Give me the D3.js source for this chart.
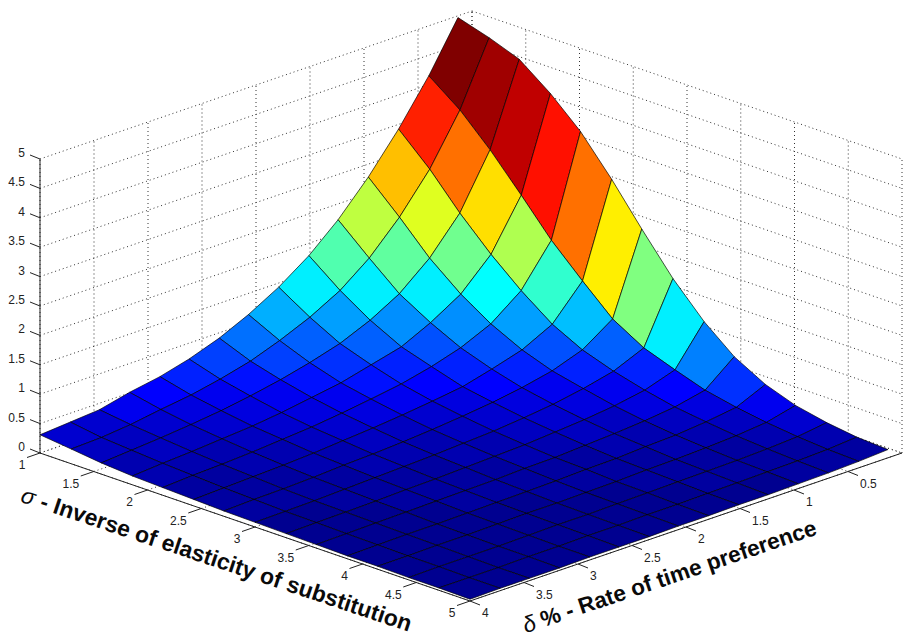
<!DOCTYPE html>
<html>
<head>
<meta charset="utf-8">
<script src="https://cdn.jsdelivr.net/npm/d3@7"></script>
<style>
html,body{margin:0;padding:0;background:#fff;}
svg{display:block;}
text{font-family:"Liberation Sans",Arial,sans-serif;}
</style>
</head>
<body>
<svg id="chart" width="910" height="638"></svg>
<script>
const sigmaValues = [1,1.29,1.57,1.86,2.14,2.43,2.71,3,3.29,3.57,3.86,4.14,4.43,4.71,5];
const deltaValues = [4,3.72,3.45,3.17,2.89,2.62,2.34,2.07,1.79,1.51,1.24,0.96,0.68,0.4,0.13];
// one row per delta value (same order as deltaValues), one column per sigma value
const surfaceZ = [
 [.31,.25,.19,.15,.13,.11,.09,.08,.07,.06,.05,.05,.04,.04,.03],
 [.35,.27,.23,.19,.16,.13,.11,.09,.08,.07,.06,.05,.05,.04,.04],
 [.39,.32,.27,.22,.18,.15,.12,.10,.09,.08,.07,.06,.05,.04,.04],
 [.51,.40,.32,.26,.21,.17,.14,.12,.10,.09,.07,.06,.05,.05,.04],
 [.60,.47,.38,.30,.25,.20,.17,.14,.12,.10,.08,.07,.06,.05,.05],
 [.73,.57,.46,.36,.29,.24,.19,.16,.13,.11,.09,.08,.07,.06,.05],
 [.91,.70,.56,.44,.35,.28,.22,.18,.15,.12,.10,.08,.07,.06,.05],
 [1.14,.88,.68,.52,.42,.33,.26,.21,.17,.14,.11,.09,.08,.07,.06],
 [1.43,1.10,.83,.65,.50,.39,.31,.24,.19,.15,.13,.10,.09,.07,.06],
 [1.79,1.38,1.05,.78,.62,.46,.37,.29,.23,.18,.14,.12,.10,.08,.07],
 [2.23,1.76,1.33,1.02,.77,.59,.45,.35,.27,.21,.17,.13,.11,.09,.07],
 [2.78,2.28,1.76,1.33,1.00,.74,.56,.44,.33,.25,.19,.15,.12,.10,.08],
 [3.42,2.92,2.35,1.83,1.39,1.00,.74,.56,.42,.31,.24,.18,.14,.11,.09],
 [4.15,3.75,3.25,2.66,2.07,1.56,1.09,.78,.59,.42,.31,.23,.17,.13,.11],
 [4.97,4.81,4.62,4.22,3.75,3.12,2.45,1.79,1.24,.82,.53,.35,.24,.17,.14]
];
const sigmaTicks = [1,1.5,2,2.5,3,3.5,4,4.5,5];
const deltaTicks = [0.5,1,1.5,2,2.5,3,3.5,4];
const zTicks = [0,0.5,1,1.5,2,2.5,3,3.5,4,4.5,5];
const sigmaSymbol = "σ", sigmaLabel = " - Inverse of elasticity of substitution";
const deltaSymbol = "δ", deltaLabel = " % - Rate of time preference";

const originX = 40, originY = 453;
const sx = d3.scaleLinear().domain([1,5]).range([0,430]);
const sy = d3.scaleLinear().domain([1,5]).range([0,148]);
const dx = d3.scaleLinear().domain([4,0]).range([0,432]);
const dy = d3.scaleLinear().domain([4,0]).range([0,-148]);
const zy = d3.scaleLinear().domain([0,5]).range([0,-294]);
const project = (s,d,z) => [originX + sx(s) + dx(d), originY + sy(s) + dy(d) + zy(z)];

const zFlat = surfaceZ.flat();
const zMin = d3.min(zFlat), zMax = d3.max(zFlat);
const jet = d3.scaleLinear()
  .domain([0,.125,.375,.625,.875,1])
  .range(["#000080","#0000ff","#00ffff","#ffff00","#ff0000","#800000"])
  .interpolate(d3.interpolateRgb);
// 64-step colormap lookup, as the original plot used
const colorOf = z => jet(Math.min(64, Math.floor((z-zMin)/(zMax-zMin)*64)+1)/64);

const svg = d3.select("#chart");
const grid = svg.append("g").attr("fill","none").attr("stroke","#333").attr("stroke-width",1).attr("stroke-dasharray","1 3");
const segment = (g,a,b) => g.append("line").attr("x1",a[0]).attr("y1",a[1]).attr("x2",b[0]).attr("y2",b[1]);

// horizontal grid on both back walls
zTicks.forEach(z => {
  segment(grid, project(1,4,z), project(1,0,z));
  segment(grid, project(1,0,z), project(5,0,z));
});
// vertical grid on back walls and floor grid
deltaTicks.concat([0]).forEach(d => {
  segment(grid, project(1,d,0), project(1,d,5));
  segment(grid, project(1,d,0), project(5,d,0));
});
sigmaTicks.forEach(s => {
  segment(grid, project(s,0,0), project(s,0,5));
  segment(grid, project(s,4,0), project(s,0,0));
});

// axes
const axes = svg.append("g").attr("stroke","#222").attr("stroke-width",1).attr("fill","none");
segment(axes, project(1,4,0), project(1,4,5));
segment(axes, project(1,4,0), project(5,4,0));
segment(axes, project(5,4,0), project(5,0,0));

// ticks and labels
const labels = svg.append("g").attr("font-size",12).attr("fill","#222");
zTicks.forEach(z => {
  const p = project(1,4,z);
  segment(axes, p, [p[0]-10,p[1]-4]);
  labels.append("text").attr("x",p[0]-15).attr("y",p[1]-2).attr("text-anchor","end").text(z);
});
sigmaTicks.forEach(s => {
  const p = project(s,4,0);
  segment(axes, p, [p[0]-13,p[1]+4.5]);
  labels.append("text").attr("x",p[0]-14.5).attr("y",p[1]+16).attr("text-anchor","end").text(s);
});
deltaTicks.forEach(d => {
  const p = project(5,d,0);
  segment(axes, p, [p[0]+10,p[1]+4]);
  labels.append("text").attr("x",p[0]+12).attr("y",p[1]+16).attr("text-anchor","start").text(d);
});

// surface, painted from the back corner to the front corner
const faces = [];
for (let i = deltaValues.length-2; i >= 0; i--) {
  for (let j = 0; j < sigmaValues.length-1; j++) {
    faces.push({i,j});
  }
}
const vertex = (i,j) => project(sigmaValues[j], deltaValues[i], surfaceZ[i][j]);
svg.append("g").selectAll("path").data(faces).join("path")
  .attr("d", f => "M" + [vertex(f.i,f.j),vertex(f.i,f.j+1),vertex(f.i+1,f.j+1),vertex(f.i+1,f.j)].map(p=>p.join(",")).join("L") + "Z")
  .attr("fill", f => colorOf(surfaceZ[f.i+1][f.j]))
  .attr("stroke","#000").attr("stroke-opacity",.75).attr("stroke-width",.9).attr("stroke-linejoin","round");

// axis titles
function title(x, y, angle, size, symbol, rest) {
  const t = svg.append("text").attr("transform",`translate(${x},${y}) rotate(${angle})`)
    .attr("text-anchor","middle").attr("dominant-baseline","middle")
    .attr("font-size",size).attr("font-weight","bold").attr("fill","#0a0a0a");
  t.append("tspan").attr("font-weight","normal").attr("font-style","italic").text(symbol);
  t.append("tspan").text(rest);
}
title(216,561,18.5,22.8,sigmaSymbol,sigmaLabel);
title(670,578,-18.7,22.5,deltaSymbol,deltaLabel);
</script>
</body>
</html>
